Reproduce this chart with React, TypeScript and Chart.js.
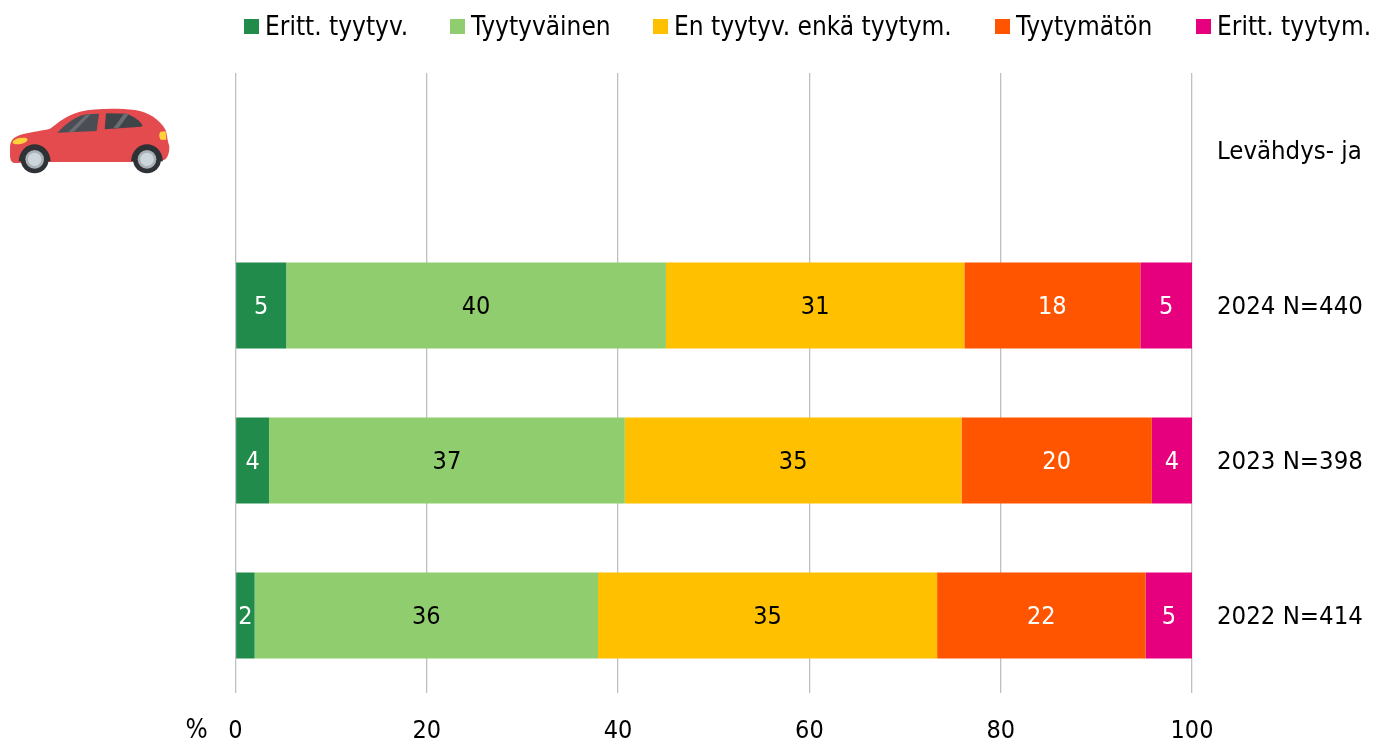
import React, { useEffect, useRef } from "react";
import { Chart, registerables } from "chart.js";

Chart.register(...registerables);

const categories = ["Levähdys- ja", "2024 N=440", "2023 N=398", "2022 N=414"];
const erittTyytyv = [null, 5.3, 3.5, 2.0];
const tyytyvainen = [null, 39.7, 37.2, 35.9];
const enTyytyv = [null, 31.2, 35.2, 35.45];
const tyytymaton = [null, 18.4, 19.9, 21.8];
const erittTyytym = [null, 5.4, 4.2, 4.85];
const seriesNames = ["Eritt. tyytyv.", "Tyytyväinen", "En tyytyv. enkä tyytym.", "Tyytymätön", "Eritt. tyytym."];
const seriesColors = ["#218b4b", "#90cd6f", "#ffc000", "#ff5500", "#e6007e"];
const labelColors = ["#ffffff", "#000000", "#000000", "#ffffff", "#ffffff"];
const FONT = '"DejaVu Sans Condensed", "DejaVu Sans", sans-serif';
const FONT_SIZE = 25;
const LEGEND_FONT_SIZE = 26;

const barLabels = {
  id: "barLabels",
  afterDatasetsDraw(chart: any) {
    const { ctx } = chart;
    ctx.save();
    ctx.font = `${FONT_SIZE}px ${FONT}`;
    ctx.textAlign = "center";
    ctx.textBaseline = "middle";
    chart.data.datasets.forEach((ds: any, i: number) => {
      chart.getDatasetMeta(i).data.forEach((bar: any, j: number) => {
        const v = ds.data[j];
        if (v == null) return;
        ctx.fillStyle = labelColors[i];
        ctx.fillText(String(Math.round(v)), (bar.x + bar.base) / 2, bar.y + 2);
      });
    });
    ctx.restore();
  },
};

const legendAndUnit = {
  id: "legendAndUnit",
  afterDraw(chart: any) {
    const { ctx, scales } = chart;
    ctx.save();
    ctx.font = `${LEGEND_FONT_SIZE}px ${FONT}`;
    ctx.textBaseline = "middle";
    ctx.textAlign = "left";
    const starts = [244, 450, 653, 995, 1196];
    seriesNames.forEach((name, i) => {
      ctx.fillStyle = seriesColors[i];
      ctx.fillRect(starts[i], 19, 15, 15);
      ctx.fillStyle = "#000000";
      ctx.fillText(name, starts[i] + 21, 28.5);
    });
    ctx.textAlign = "center";
    ctx.fillText("%", scales.x.left - 39, 731);
    ctx.restore();
  },
};

function Car() {
  return (
    <svg
      viewBox="0 0 540 300"
      width={180}
      height={100}
      style={{ position: "absolute", left: 0, top: 90 }}
    >
      <path
        d="M30 170 C32 150 40 140 70 132 C100 124 130 122 150 116 C175 98 200 75 240 65 C285 55 350 54 405 60 C445 66 480 88 498 122 L503 150 L508 170 C508 195 500 208 490 210 L390 216 L150 216 L45 219 C35 219 30 210 30 195 Z"
        fill="#e34b4e"
      />
      <path d="M172 128 C200 100 225 80 260 73 L297 71 L290 123 Z" fill="#4a4e54" />
      <path d="M318 70 L380 71 C400 78 420 92 428 106 L424 110 L314 118 Z" fill="#3f4449" />
      <path d="M205 126 L258 74 L272 73 L222 125 Z" fill="#6a6e74" />
      <path d="M340 115 L372 71 L386 73 L356 113 Z" fill="#6a6e74" />
      <ellipse cx="60" cy="153" rx="23" ry="9" transform="rotate(-12 60 153)" fill="#ffd23c" />
      <path d="M482 125 L497 124 L499 149 L482 149 C476 140 476 132 482 125 Z" fill="#ffd23c" />
      <path d="M56 214 C58 182 80 163 104 163 C128 163 150 182 152 214 Z" fill="#2e3236" />
      <path d="M393 214 C395 182 417 163 441 163 C465 163 487 182 489 214 Z" fill="#2e3236" />
      <circle cx="104" cy="208" r="42" fill="#2e3236" />
      <circle cx="104" cy="208" r="28" fill="#a9b0b6" />
      <circle cx="104" cy="208" r="20" fill="#cdd5dc" />
      <circle cx="441" cy="208" r="42" fill="#2e3236" />
      <circle cx="441" cy="208" r="28" fill="#a9b0b6" />
      <circle cx="441" cy="208" r="20" fill="#cdd5dc" />
    </svg>
  );
}

export default function App() {
  const ref = useRef<HTMLCanvasElement>(null);
  useEffect(() => {
    const data = [erittTyytyv, tyytyvainen, enTyytyv, tyytymaton, erittTyytym];
    const chart = new Chart(ref.current!, {
      type: "bar",
      data: {
        labels: categories,
        datasets: seriesNames.map((label, i) => ({
          label,
          data: data[i],
          backgroundColor: seriesColors[i],
          barPercentage: 0.555,
          categoryPercentage: 1,
        })),
      },
      plugins: [barLabels, legendAndUnit],
      options: {
        indexAxis: "y",
        responsive: false,
        animation: false,
        layout: { padding: { left: 235.5, top: 73, right: 0, bottom: 0 } },
        plugins: { legend: { display: false }, tooltip: { enabled: false } },
        scales: {
          x: {
            stacked: true,
            min: 0,
            max: 100,
            afterFit: (s: any) => { s.height = 741 - 693; },
            border: { display: false },
            grid: { color: "#c0c0c0", lineWidth: 1.3, drawTicks: false },
            ticks: { stepSize: 20, color: "#000000", padding: 23, maxRotation: 0, font: { family: FONT, size: FONT_SIZE } },
          },
          y: {
            stacked: true,
            position: "right",
            afterFit: (s: any) => { s.width = 1374 - 1192; },
            border: { display: false },
            grid: { display: false, drawTicks: false },
            ticks: { color: "#000000", padding: 25, labelOffset: 1.5, align: "center", crossAlign: "near", font: { family: FONT, size: 25.5 } },
          },
        },
      } as any,
    });
    return () => chart.destroy();
  }, []);
  return (
    <div style={{ position: "absolute", left: 0, top: 0, width: 1374, height: 741, background: "#fff" }}>
      <canvas ref={ref} width={1374} height={741} style={{ display: "block" }} />
      <Car />
    </div>
  );
}
